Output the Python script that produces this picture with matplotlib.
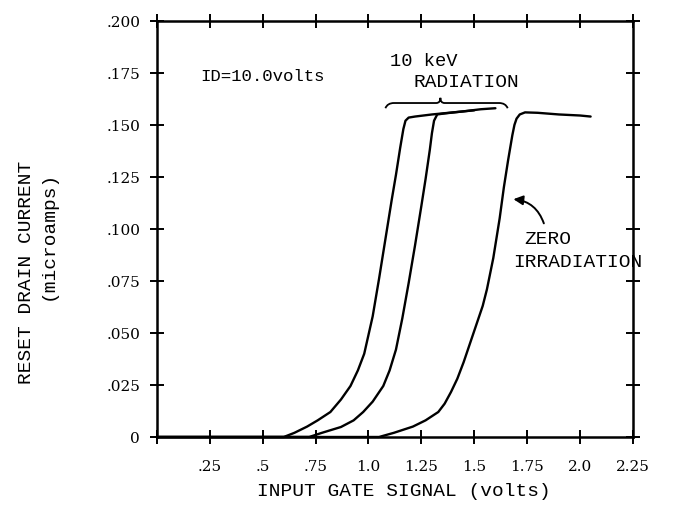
import matplotlib
matplotlib.use("Agg")
import matplotlib.pyplot as plt
from matplotlib.path import Path
from matplotlib.patches import PathPatch

# ---- data ----
x_ticks = [0, 0.25, 0.5, 0.75, 1.0, 1.25, 1.5, 1.75, 2.0, 2.25]
x_tick_labels = ["", ".25", ".5", ".75", "1.0", "1.25", "1.5", "1.75", "2.0", "2.25"]
y_ticks = [0, 0.025, 0.05, 0.075, 0.1, 0.125, 0.15, 0.175, 0.2]
y_tick_labels = ["0", ".025", ".050", ".075", ".100", ".125", ".150", ".175", ".200"]

# 10 keV radiation, curve 1
rad1_x = [0, 0.60, 0.65, 0.71, 0.76, 0.82, 0.87, 0.915, 0.95, 0.98, 1.02, 1.05, 1.08,
          1.11, 1.13, 1.15, 1.165, 1.175, 1.19, 1.22, 1.30, 1.40, 1.50]
rad1_y = [0, 0, 0.002, 0.005, 0.008, 0.012, 0.018, 0.0245, 0.032, 0.040, 0.058, 0.076, 0.095,
          0.114, 0.126, 0.139, 0.148, 0.152, 0.1535, 0.154, 0.155, 0.156, 0.157]
# 10 keV radiation, curve 2
rad2_x = [0, 0.72, 0.78, 0.87, 0.93, 0.975, 1.02, 1.07, 1.10, 1.13, 1.16, 1.19, 1.22,
          1.25, 1.27, 1.29, 1.30, 1.31, 1.325, 1.36, 1.45, 1.53, 1.60]
rad2_y = [0, 0, 0.002, 0.0048, 0.008, 0.012, 0.017, 0.0245, 0.032, 0.042, 0.057, 0.074, 0.092,
          0.111, 0.124, 0.138, 0.146, 0.152, 0.155, 0.1555, 0.1565, 0.1575, 0.158]
# zero irradiation
zero_x = [0, 1.05, 1.12, 1.21, 1.27, 1.33, 1.36, 1.39, 1.42, 1.45, 1.48, 1.51, 1.54, 1.56,
          1.59, 1.62, 1.64, 1.66, 1.68, 1.69, 1.70, 1.715, 1.74, 1.80, 1.90, 2.00, 2.05]
zero_y = [0, 0, 0.002, 0.005, 0.008, 0.012, 0.016, 0.0216, 0.028, 0.036, 0.045, 0.054, 0.063, 0.071,
          0.086, 0.105, 0.120, 0.133, 0.145, 0.150, 0.153, 0.155, 0.156, 0.1558, 0.155, 0.1545, 0.154]

MONO = "Liberation Mono"
SERIF = "DejaVu Serif"

fig = plt.figure(figsize=(6.85, 5.10), dpi=100)
ax = fig.add_axes([0.229, 0.1412, 0.695, 0.816])

for xs, ys in [(rad1_x, rad1_y), (rad2_x, rad2_y), (zero_x, zero_y)]:
    ax.plot(xs, ys, color="black", lw=1.7, solid_capstyle="round",
            solid_joinstyle="round", clip_on=False)

ax.set_xlim(0, 2.25)
ax.set_ylim(0, 0.2)
ax.set_xticks(x_ticks)
ax.set_xticklabels(x_tick_labels, family=SERIF, fontsize=11)
ax.set_yticks(y_ticks)
ax.set_yticklabels(y_tick_labels, family=SERIF, fontsize=11)
ax.tick_params(direction="inout", length=10, width=1.4, top=True, right=True, pad=7)
ax.tick_params(axis="x", pad=11)
for s in ax.spines.values():
    s.set_linewidth(1.8)

# annotations
ax.text(0.204, 0.1736, "ID=10.0volts", family=MONO, fontsize=12.5, va="center", ha="left")
ax.text(1.104, 0.1808, "10 keV", family=MONO, fontsize=13.5, va="center", ha="left")
ax.text(1.213, 0.1707, "RADIATION", family=MONO, fontsize=14, va="center", ha="left")
ax.text(1.734, 0.0952, "ZERO", family=MONO, fontsize=14, va="center", ha="left")
ax.text(1.682, 0.0841, "IRRADIATION", family=MONO, fontsize=14, va="center", ha="left")

ax.annotate("", xy=(1.672, 0.1144), xytext=(1.833, 0.1014),
            arrowprops=dict(arrowstyle="-|>", color="black", lw=1.4,
                            connectionstyle="arc3,rad=0.35", mutation_scale=14))

# brace over the radiation curves
bx0, bx1, bxc = 1.08, 1.658, 1.34
by, bh = 0.1605, 0.0025
verts = [(bx0, by - bh), (bx0 + 0.01, by), (bx0 + 0.04, by),
         (bxc - 0.02, by), (bxc, by), (bxc, by + bh),
         (bxc, by), (bxc + 0.02, by), (bxc + 0.04, by),
         (bx1 - 0.04, by), (bx1 - 0.01, by), (bx1, by - bh)]
codes = [Path.MOVETO, Path.CURVE3, Path.CURVE3,
         Path.LINETO, Path.CURVE3, Path.CURVE3,
         Path.CURVE3, Path.CURVE3, Path.LINETO,
         Path.LINETO, Path.CURVE3, Path.CURVE3]
ax.add_patch(PathPatch(Path(verts, codes), fill=False, lw=1.3, color="black"))

fig.text(404 / 685, 1 - 492 / 510, "INPUT GATE SIGNAL (volts)", family=MONO,
         fontsize=14, ha="center", va="center")
fig.text(27 / 685, 1 - 272 / 510, "RESET DRAIN CURRENT", family=MONO,
         fontsize=14, ha="center", va="center", rotation=90)
fig.text(48 / 685, 1 - 235 / 510, "(microamps)", family=MONO,
         fontsize=14, ha="center", va="center", rotation=90)

fig.savefig("out.png", dpi=100)
